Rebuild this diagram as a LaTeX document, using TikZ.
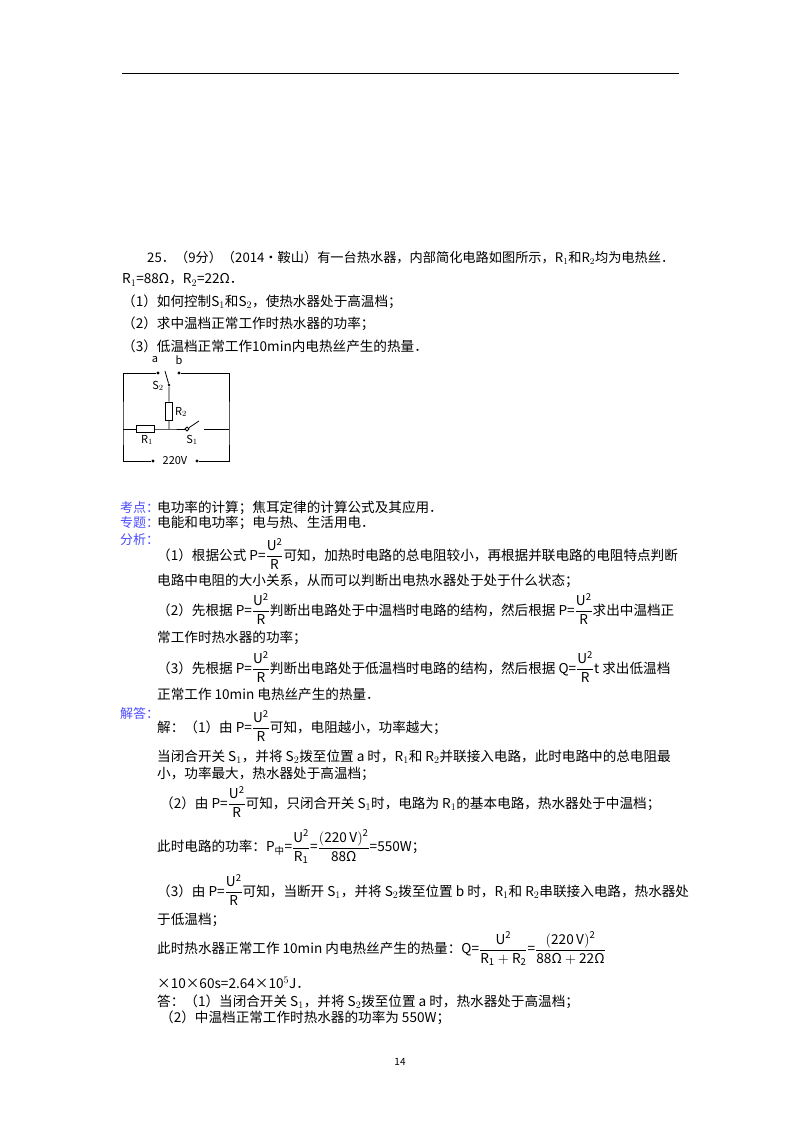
\documentclass[tikz,border=0pt]{standalone}
\usepackage{fontspec}
\usepackage{amsmath}
\setmainfont{Noto Sans CJK SC}
\begin{document}
\begin{tikzpicture}[x=1pt,y=-1pt,
  t/.style={anchor=west,inner sep=0pt,font=\fontsize{13.6}{15}\selectfont},
  lab/.style={inner sep=0pt,font=\fontsize{11}{12}\selectfont},
  hd/.style={anchor=west,inner sep=0pt,font=\fontsize{13}{14}\selectfont,text=blue!70!white},
  w/.style={line width=0.8pt},
  dot/.style={circle,fill,inner sep=1.2pt}]
\useasboundingbox (0,0) rectangle (800,1132);
\fill[white] (0,0) rectangle (800,1132);
\draw[line width=0.8pt] (122,73) -- (679,73);
\newcommand\fr[2]{\ensuremath{\dfrac{\mathrm{#1}}{\mathrm{#2}}}}
\newcommand\Om{\text{Ω}}
\node[t,font=\fontsize{13.2}{15}\selectfont] (l1) at (147,258) {25．（9分）（2014•鞍山）有一台热水器，内部简化电路如图所示，R\(_1\)和R\(_2\)均为电热丝．};
\node[t] (l2) at (122,280) {R\(_1\)=88Ω，R\(_2\)=22Ω．};
\node[t] (l3) at (122,302) {（1）如何控制S\(_1\)和S\(_2\)，使热水器处于高温档；};
\node[t] (l4) at (122,324) {（2）求中温档正常工作时热水器的功率；};
\node[t] (l5) at (122,346) {（3）低温档正常工作10min内电热丝产生的热量．};
% circuit
\coordinate (tl) at (123,373); \coordinate (tr) at (229,373);
\coordinate (ml) at (123,429); \coordinate (mr) at (229,429);
\coordinate (bl) at (123,461); \coordinate (br) at (229,461);
\node[dot] (a) at (158,373) {}; \node[dot] (b) at (179,373) {};
\node[dot,inner sep=1pt] (s2) at (169,385) {};
\node[dot] (v1) at (153,461) {}; \node[dot] (v2) at (197,461) {};
\node[draw,w,minimum width=7pt,minimum height=18pt,inner sep=0pt,fill=white] (r2) at (169,411) {};
\node[draw,w,minimum width=18pt,minimum height=7pt,inner sep=0pt,fill=white] (r1) at (145,429) {};
\node[draw,circle,w,inner sep=1.4pt] (s1) at (187,429) {};
\coordinate (s1e) at (199,421); \coordinate (s1r) at (204,429); \coordinate (j) at (169,429);
\coordinate (s2e) at (165,371);
\draw[w] (a) -- (tl) -- (ml) -- (bl) -- (v1);
\draw[w] (b) -- (tr) -- (mr) -- (br) -- (v2);
\draw[w] (ml) -- (r1) -- (j) -- (s1);
\draw[w] (s1) -- (s1e);
\draw[w] (s1r) -- (mr);
\draw[w] (j) -- (r2) -- (s2) -- (s2e);
\node[lab] (la) at (155,360) {a}; \node[lab] (lb) at (179,360) {b};
\node[lab] (ls2) at (158,386) {S\(_2\)}; \node[lab] (lr2) at (181,412) {R\(_2\)};
\node[lab] (lr1) at (147,440) {R\(_1\)}; \node[lab] (ls1) at (192,440) {S\(_1\)};
\node[lab,fill=white,inner xsep=3pt] (lv) at (175,461) {220V};
% headers
\node[hd] (h1) at (120,508) {考点：}; \node[t] at (157,508) {电功率的计算；焦耳定律的计算公式及其应用．};
\node[hd] (h2) at (120,523) {专题：}; \node[t] at (157,523) {电能和电功率；电与热、生活用电．};
\node[hd] (h3) at (120,540) {分析：};
\node[t] at (157,554) {（1）根据公式 P=\fr{U^2}{R}可知，加热时电路的总电阻较小，再根据并联电路的电阻特点判断};
\node[t] at (157,581) {电路中电阻的大小关系，从而可以判断出电热水器处于处于什么状态；};
\node[t] at (157,609) {（2）先根据 P=\fr{U^2}{R}判断出电路处于中温档时电路的结构，然后根据 P=\fr{U^2}{R}求出中温档正};
\node[t] at (157,638) {常工作时热水器的功率；};
\node[t] at (157,667) {（3）先根据 P=\fr{U^2}{R}判断出电路处于低温档时电路的结构，然后根据 Q=\fr{U^2}{R}t 求出低温档};
\node[t] at (157,694) {正常工作 10min 电热丝产生的热量．};
\node[hd] (h4) at (120,714) {解答：};
\node[t] at (157,726) {解：（1）由 P=\fr{U^2}{R}可知，电阻越小，功率越大；};
\node[t] at (157,757) {当闭合开关 S\(_1\)，并将 S\(_2\)拨至位置 a 时，R\(_1\)和 R\(_2\)并联接入电路，此时电路中的总电阻最};
\node[t] at (157,774) {小，功率最大，热水器处于高温档；};
\node[t] at (160,802) {（2）由 P=\fr{U^2}{R}可知，只闭合开关 S\(_1\)时，电路为 R\(_1\)的基本电路，热水器处于中温档；};
\node[t] at (157,847) {此时电路的功率：P\(_{\text{中}}\)=\fr{U^2}{R_1}=\fr{(220\,V)^2}{88\Om}=550W；};
\node[t] at (157,890) {（3）由 P=\fr{U^2}{R}可知，当断开 S\(_1\)，并将 S\(_2\)拨至位置 b 时，R\(_1\)和 R\(_2\)串联接入电路，热水器处};
\node[t] at (157,920) {于低温档；};
\node[t] at (157,949) {此时热水器正常工作 10min 内电热丝产生的热量：Q=\fr{U^2}{R_1+R_2}=\fr{(220\,V)^2}{88\Om+22\Om}};
\node[t] at (157,983) {×10×60s=2.64×10\(^5\)J．};
\node[t] at (157,1002) {答：（1）当闭合开关 S\(_1\)，并将 S\(_2\)拨至位置 a 时，热水器处于高温档；};
\node[t] at (160,1018) {（2）中温档正常工作时热水器的功率为 550W；};
\node[inner sep=0pt,font=\fontsize{10}{12}\selectfont] (pg) at (400,1062) {14};
\end{tikzpicture}
\end{document}
